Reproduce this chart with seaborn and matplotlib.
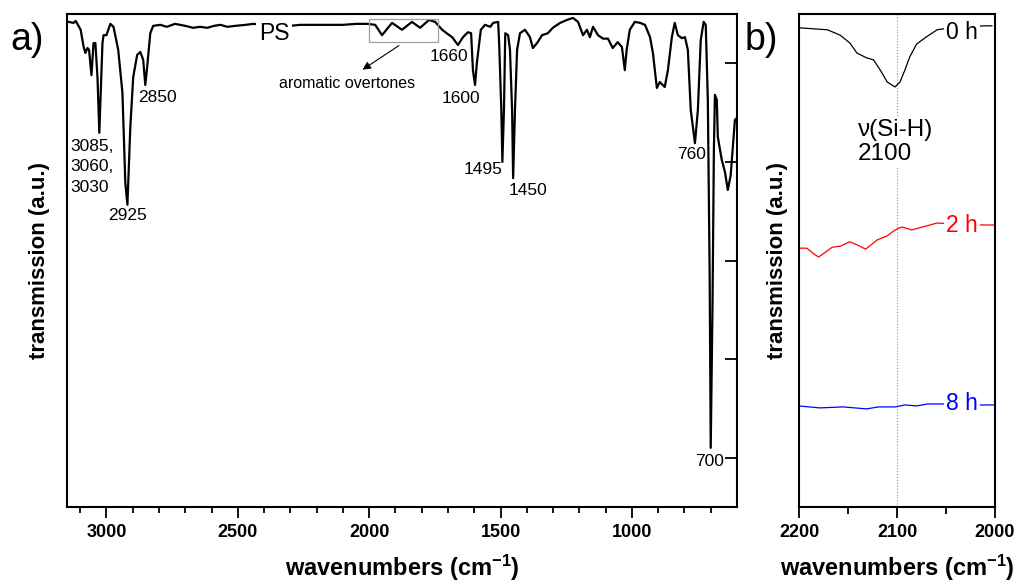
import matplotlib
matplotlib.use("Agg")
import matplotlib.pyplot as plt
from matplotlib.patches import Rectangle
from matplotlib.ticker import FixedLocator
import seaborn as sns
import pandas as pd

# ---------------- data ----------------
# PS FTIR spectrum (panel a): wavenumber (cm-1) and transmission (a.u.)
ps_wavenumber = [3144, 3125, 3117, 3098, 3087, 3080, 3072, 3066, 3057, 3049, 3042, 3034, 3027, 3015,
                 3011, 3000, 2985, 2973, 2955, 2939, 2928, 2920, 2909, 2898, 2883, 2871, 2860, 2852,
                 2845, 2833, 2822, 2795, 2770, 2739, 2700, 2670, 2644, 2616, 2590, 2566, 2540, 2509,
                 2470, 2441, 2400, 2350, 2300, 2262, 2200, 2149, 2100, 2050, 2007, 1977, 1951, 1913,
                 1875, 1837, 1806, 1772, 1749, 1722, 1700, 1684, 1662, 1643, 1624, 1612, 1605, 1597,
                 1590, 1575, 1559, 1539, 1528, 1509, 1505, 1497, 1493, 1487, 1482, 1471, 1464, 1456,
                 1452, 1445, 1437, 1426, 1407, 1388, 1377, 1361, 1342, 1320, 1301, 1273, 1247, 1224,
                 1205, 1186, 1171, 1160, 1148, 1129, 1110, 1091, 1073, 1054, 1038, 1027, 1020, 1008,
                 989, 969, 950, 931, 920, 905, 894, 875, 863, 848, 837, 825, 810, 798, 787, 776, 760,
                 749, 738, 727, 719, 711, 704, 700, 693, 688, 684, 677, 673, 658, 646, 635, 624, 608, 601]
ps_transmission = [98.4, 98.2, 98.6, 96.8, 93.4, 92.1, 93.1, 92.7, 87.6, 94.1, 94.1, 87.2, 75.9, 94.1,
                   95.7, 95.7, 98.0, 97.4, 92.7, 84.0, 65.7, 61.3, 77.1, 87.2, 91.7, 92.3, 90.7, 85.6,
                   89.2, 96.1, 97.6, 97.8, 97.4, 98.0, 97.6, 97.2, 97.4, 97.2, 97.6, 97.8, 97.4, 97.6,
                   97.8, 98.0, 97.8, 97.8, 97.6, 97.8, 97.8, 97.8, 97.8, 98.0, 98.0, 97.8, 95.7, 98.2,
                   96.8, 98.4, 97.2, 98.8, 98.4, 96.8, 95.9, 95.3, 93.7, 95.3, 96.3, 96.1, 88.6, 85.6,
                   90.1, 96.8, 97.8, 97.4, 98.2, 98.4, 93.7, 80.5, 70.0, 80.5, 96.1, 95.7, 92.7, 80.5,
                   66.7, 80.5, 92.7, 96.1, 96.8, 95.3, 93.1, 94.1, 95.7, 96.1, 97.2, 98.2, 98.8, 99.2,
                   98.4, 95.7, 96.8, 95.3, 97.4, 95.7, 95.0, 95.0, 93.1, 94.3, 93.3, 88.6, 92.7, 96.8,
                   98.4, 98.2, 97.8, 95.3, 92.1, 85.0, 86.2, 85.2, 88.6, 95.3, 98.2, 95.7, 95.1, 95.3,
                   92.7, 80.5, 73.8, 80.5, 94.7, 98.4, 97.8, 82.6, 46.7, 12.0, 42.0, 72.4, 83.6, 82.6,
                   75.1, 70.4, 68.0, 64.3, 67.3, 78.5, 78.9]

# Si-H region (panel b)
h0_wavenumber = [2200, 2171, 2158, 2148, 2141, 2131, 2124, 2117, 2110, 2102, 2097, 2092, 2087, 2080,
                 2069, 2059, 2045, 2030, 2011, 2003]
h0_transmission = [97.2, 96.8, 95.7, 94.1, 92.1, 91.1, 90.7, 88.6, 86.2, 85.2, 86.2, 88.6, 91.3, 93.9,
                   95.5, 96.8, 97.2, 97.4, 97.6, 97.6]
h2_wavenumber = [2200, 2192, 2186, 2180, 2173, 2166, 2158, 2148, 2140, 2132, 2120, 2110, 2102, 2095,
                 2085, 2074, 2059, 2040, 2011, 2001]
h2_transmission = [52.5, 52.5, 51.5, 50.7, 51.7, 52.7, 52.9, 53.8, 53.1, 52.3, 54.2, 55.0, 56.2, 56.8,
                   56.2, 56.8, 57.6, 57.4, 57.2, 57.2]
h8_wavenumber = [2200, 2179, 2155, 2131, 2119, 2102, 2092, 2080, 2069, 2053, 2030, 2001]
h8_transmission = [20.5, 20.1, 20.3, 19.9, 20.3, 20.3, 20.7, 20.5, 20.9, 20.9, 20.7, 20.7]

x_major_a = [3000, 2500, 2000, 1500, 1000]
x_minor_a = [3100, 2900, 2800, 2700, 2600, 2400, 2300, 2200, 2100, 1900, 1800, 1700, 1600,
             1400, 1300, 1200, 1100, 900, 800, 700]
y_ticks_a = [10, 30, 50, 70, 90]
x_major_b = [2200, 2100, 2000]
x_minor_b = [2150, 2050]

peak_labels = ["3085,\n3060,\n3030", "2925", "2850", "1660", "1600", "1495", "1450", "760", "700"]
peak_label_x = [3138, 2920, 2806, 1698, 1650, 1565, 1396, 774, 703]
peak_label_y = [69.0, 59.2, 83.0, 91.3, 82.8, 68.4, 64.1, 71.4, 9.3]

# ---------------- style ----------------
sns.set_style("ticks")
plt.rcParams['font.family'] = ['Liberation Sans', 'DejaVu Sans']
plt.rcParams['mathtext.fontset'] = 'custom'
plt.rcParams['mathtext.rm'] = 'Liberation Sans:bold'
plt.rcParams['mathtext.default'] = 'rm'
plt.rcParams['text.color'] = 'black'
plt.rcParams['axes.labelcolor'] = 'black'
plt.rcParams['xtick.color'] = 'black'
plt.rcParams['ytick.color'] = 'black'
plt.rcParams['axes.edgecolor'] = 'black'

fig = plt.figure(figsize=(10.17, 5.86), dpi=100)
W, H = 1017, 586
ax1 = fig.add_axes([67 / W, 1 - 507 / H, (737 - 67) / W, (507 - 14) / H])
ax2 = fig.add_axes([799 / W, 1 - 507 / H, (995 - 799) / W, (507 - 14) / H])

df_ps = pd.DataFrame({"wavenumber": ps_wavenumber, "transmission": ps_transmission})
sns.lineplot(data=df_ps, x="wavenumber", y="transmission", ax=ax1, color="black",
             linewidth=1.6, estimator=None, sort=False)

for wn, tr, col in [(h0_wavenumber, h0_transmission, "black"),
                    (h2_wavenumber, h2_transmission, "red"),
                    (h8_wavenumber, h8_transmission, "blue")]:
    d = pd.DataFrame({"wavenumber": wn, "transmission": tr})
    sns.lineplot(data=d, x="wavenumber", y="transmission", ax=ax2, color=col,
                 linewidth=0.9, estimator=None, sort=False)

# ---------------- axes a ----------------
ax1.set_xlim(3150, 600)
ax1.set_ylim(0, 100)
ax1.xaxis.set_major_locator(FixedLocator(x_major_a))
ax1.xaxis.set_minor_locator(FixedLocator(x_minor_a))
ax1.set_xticklabels([str(v) for v in x_major_a], fontweight='bold', fontsize=13)
ax1.tick_params(axis='x', which='major', direction='out', length=8, width=1.3, pad=4)
ax1.tick_params(axis='x', which='minor', direction='out', length=4, width=1.3)
ax1.set_yticks(y_ticks_a)
ax1.tick_params(axis='y', left=False, right=True, labelleft=False, labelright=False,
                direction='in', length=9, width=1.3)
ax1.set_xlabel('wavenumbers (cm$^{-1}$)', fontweight='bold', fontsize=17, labelpad=9)
ax1.set_ylabel('transmission (a.u.)', fontweight='bold', fontsize=16, labelpad=12)

for lab, lx, ly in zip(peak_labels, peak_label_x, peak_label_y):
    if lab.startswith("3085"):
        ax1.text(lx, ly, lab, fontsize=12.5, ha='left', va='center', linespacing=1.45)
    else:
        ax1.text(lx, ly, lab, fontsize=12.5, ha='center', va='center')

ax1.text(2361, 96.1, "PS", fontsize=16.5, ha='center', va='center', zorder=5,
         bbox=dict(facecolor='white', edgecolor='none', pad=2))
ax1.add_patch(Rectangle((1738, 94.3), 262, 4.7, fill=False, edgecolor='#a0a0a0', linewidth=0.9, zorder=4))
ax1.annotate("", xy=(2034, 88.4), xytext=(1878, 93.9),
             arrowprops=dict(arrowstyle='-|>', color='black', lw=0.8, mutation_scale=12))
ax1.text(2084, 86.0, "aromatic overtones", fontsize=11.5, ha='center', va='center')

# ---------------- axes b ----------------
ax2.set_xlim(2200, 2000)
ax2.set_ylim(0, 100)
ax2.xaxis.set_major_locator(FixedLocator(x_major_b))
ax2.xaxis.set_minor_locator(FixedLocator(x_minor_b))
ax2.set_xticklabels([str(v) for v in x_major_b], fontweight='bold', fontsize=13)
ax2.tick_params(axis='x', which='major', direction='out', length=8, width=1.3, pad=4)
ax2.tick_params(axis='x', which='minor', direction='out', length=5, width=1.3)
ax2.set_yticks([])
ax2.set_xlabel('wavenumbers (cm$^{-1}$)', fontweight='bold', fontsize=17, labelpad=9)
ax2.set_ylabel('transmission (a.u.)', fontweight='bold', fontsize=16, labelpad=8)
ax2.axvline(2100, color='#909090', linestyle=':', linewidth=0.8, zorder=1)

ax2.text(2140, 74.0, "\u03bd(Si-H)\n2100", fontsize=17.5, ha='left', va='center',
         multialignment='left', linespacing=1.15, zorder=5,
         bbox=dict(facecolor='white', edgecolor='none', pad=1))
for lab, ly, col in [("0 h", 96.3, "black"), ("2 h", 57.2, "red"), ("8 h", 20.9, "blue")]:
    ax2.text(2034, ly, lab, fontsize=16.5, color=col, ha='center', va='center', zorder=5,
             bbox=dict(facecolor='white', edgecolor='none', pad=1.5))

for ax in (ax1, ax2):
    for s in ax.spines.values():
        s.set_visible(True)
        s.set_linewidth(1.5)
        s.set_color('black')

fig.text(10 / W, 1 - 40 / H, "a)", fontsize=27, ha='left', va='center')
fig.text(745 / W, 1 - 40 / H, "b)", fontsize=27, ha='left', va='center')

fig.savefig("out.png", dpi=100)
